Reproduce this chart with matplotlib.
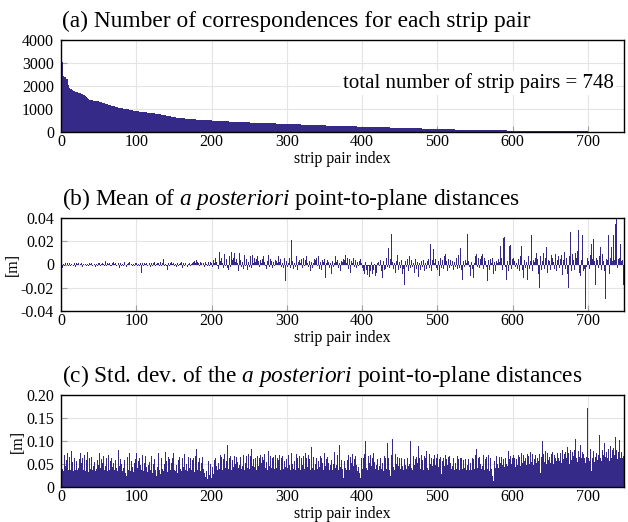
import numpy as np
import matplotlib
matplotlib.use("Agg")
import matplotlib.pyplot as plt
from matplotlib.ticker import FixedLocator, FuncFormatter

plt.rcParams['font.family'] = ['Liberation Serif', 'DejaVu Serif']
plt.rcParams['mathtext.fontset'] = 'custom'
plt.rcParams['mathtext.rm'] = 'Liberation Serif'
plt.rcParams['mathtext.it'] = 'Liberation Serif:italic'
plt.rcParams['axes.unicode_minus'] = False

# (a) number of correspondences per strip pair (sorted, descending)
counts = [
    3700, 3050, 2900, 2420, 2400, 2380, 2350, 2320, 2290, 2050, 1950, 1900, 1880, 1860, 1840, 1820, 1800, 1790, 1770, 1750,
    1730, 1720, 1710, 1700, 1690, 1680, 1660, 1650, 1640, 1620, 1610, 1590, 1570, 1540, 1500, 1460, 1420, 1400, 1390, 1385,
    1380, 1375, 1370, 1365, 1360, 1355, 1350, 1345, 1340, 1335, 1325, 1315, 1300, 1290, 1280, 1270, 1260, 1250, 1240, 1230,
    1220, 1210, 1200, 1190, 1180, 1170, 1160, 1150, 1140, 1130, 1120, 1110, 1100, 1090, 1080, 1070, 1060, 1055, 1050, 1045,
    1040, 1035, 1030, 1020, 1010, 1000, 995, 990, 985, 980, 970, 960, 950, 945, 940, 935, 930, 925, 920, 915,
    910, 905, 900, 895, 890, 885, 880, 875, 870, 865, 860, 855, 850, 848, 845, 842, 840, 836, 832, 828,
    824, 820, 815, 810, 805, 800, 795, 790, 785, 780, 775, 770, 765, 760, 755, 750, 742, 735, 728, 720,
    712, 705, 698, 690, 682, 675, 668, 660, 652, 645, 640, 636, 632, 628, 624, 620, 616, 612, 608, 604,
    600, 597, 594, 591, 588, 585, 582, 579, 576, 573, 570, 567, 564, 561, 558, 555, 552, 549, 546, 543,
    540, 538, 536, 534, 532, 530, 528, 526, 524, 522, 520, 518, 516, 514, 512, 510, 508, 506, 504, 502,
    500, 498, 496, 494, 492, 490, 488, 486, 484, 482, 480, 478, 476, 474, 472, 470, 468, 466, 464, 462,
    460, 458, 457, 455, 454, 452, 451, 449, 448, 446, 445, 443, 442, 440, 439, 437, 436, 434, 433, 431,
    430, 428, 427, 425, 424, 422, 421, 419, 418, 416, 415, 413, 412, 410, 409, 407, 406, 405, 404, 402,
    401, 400, 399, 397, 396, 395, 394, 392, 391, 390, 389, 387, 386, 385, 384, 382, 381, 380, 379, 377,
    376, 375, 374, 372, 371, 370, 369, 367, 366, 365, 364, 362, 361, 360, 359, 357, 356, 355, 354, 352,
    351, 350, 348, 347, 346, 344, 343, 342, 340, 339, 338, 336, 335, 334, 332, 331, 330, 328, 327, 326,
    324, 323, 322, 320, 319, 318, 316, 315, 314, 312, 311, 310, 308, 307, 306, 304, 303, 302, 300, 299,
    298, 296, 295, 294, 292, 291, 290, 289, 287, 286, 285, 284, 282, 281, 280, 279, 277, 276, 275, 274,
    272, 271, 270, 269, 268, 267, 266, 265, 264, 263, 262, 261, 260, 259, 258, 257, 256, 255, 254, 253,
    252, 251, 250, 249, 248, 247, 246, 245, 244, 243, 242, 241, 240, 239, 238, 237, 236, 235, 234, 233,
    232, 231, 230, 229, 228, 227, 226, 225, 224, 223, 222, 221, 220, 219, 218, 217, 216, 215, 214, 213,
    212, 211, 210, 209, 208, 207, 206, 205, 204, 203, 202, 201, 200, 199, 198, 197, 196, 195, 194, 193,
    192, 191, 190, 189, 188, 187, 186, 185, 184, 183, 182, 181, 180, 179, 178, 177, 176, 175, 174, 173,
    172, 171, 170, 169, 168, 167, 166, 165, 164, 163, 162, 161, 160, 159, 158, 157, 156, 155, 154, 153,
    152, 151, 150, 149, 148, 147, 146, 145, 144, 143, 142, 141, 140, 139, 138, 137, 136, 135, 134, 133,
    132, 131, 130, 129, 128, 127, 126, 125, 124, 123, 122, 121, 120, 119, 118, 117, 116, 115, 114, 113,
    112, 111, 110, 109, 108, 107, 106, 105, 104, 103, 102, 101, 100, 99, 98, 97, 96, 95, 94, 93,
    92, 91, 90, 90, 89, 89, 88, 88, 87, 87, 86, 86, 85, 85, 84, 84, 83, 83, 82, 82,
    81, 81, 80, 80, 79, 79, 78, 78, 77, 77, 76, 76, 75, 75, 74, 74, 73, 73, 72, 72,
    71, 71, 70, 70, 69, 69, 68, 68, 67, 67, 66, 66, 65, 65, 64, 64, 63, 63, 62, 62,
    61, 61, 60, 60, 59, 59, 58, 58, 57, 57, 56, 56, 55, 55, 54, 54, 53, 53, 52, 52,
    51, 51, 50, 50, 49, 49, 48, 48, 47, 47, 46, 46, 45, 45, 44, 44, 43, 43, 42, 42,
    41, 41, 41, 40, 40, 40, 39, 39, 39, 38, 38, 38, 37, 37, 37, 36, 36, 36, 35, 35,
    35, 34, 34, 34, 33, 33, 33, 32, 32, 32, 31, 31, 31, 30, 30, 30, 29, 29, 29, 28,
    28, 28, 27, 27, 27, 26, 26, 26, 25, 25, 25, 24, 24, 24, 23, 23, 23, 22, 22, 22,
    21, 21, 21, 20, 20, 20, 19, 19, 19, 18, 18, 18, 17, 17, 17, 16, 16, 16, 15, 15,
    15, 14, 14, 14, 13, 13, 13, 12, 12, 12, 11, 11, 11, 10, 10, 10, 9, 9, 9, 8,
    8, 8, 7, 7, 6, 6, 5, 5,
]

# (b) mean of a posteriori point-to-plane distances, in millimetres
mean_mm = [
    -1, -3, 1, 0.5, -1, 1, 0.5, -0.5, 1, -1, 0.5, 1, -1.5, 0.5, 1, -0.5, -1, 1, 0.5, -2,
    1, 0.5, -1, 1.5, -0.5, 0.5, -1, 1, -2, 0.5, 1, -0.5, 0.5, -1, 1, 0.5, -1.5, 1, -0.5, 0.5,
    1, -1, 2.5, -0.5, 0.5, -2, 1, 0.5, -1, 1, -0.5, 1.5, -1, 0.5, -2.5, 1, 0.5, -1, 2, 3,
    -1, 1, -0.5, 0.5, 1, -1.5, 0.5, -1, 1, 2, -2, 0.5, 1, -1, 0.5, -0.5, 1, -3, 0.5, 1,
    -1, 0.5, 1.5, -1, 2.5, -0.5, 1, -2, 0.5, 1, -1, 2, -0.5, 0.5, -1.5, 1, 0.5, -1, 1.5, -2,
    1, -1, 0.5, 2, -1.5, 1, -7, 0.5, 1, -1, 1.5, -2, 0.5, 1, -1, 2, -0.5, 1, -2.5, 0.5,
    1, -1, 1.5, -0.5, 2, -1, 0.5, -3, 1, 1.5, -1, 0.5, 2, -1.5, 1, -0.5, 5, -1, 0.5, 1,
    -1, -5, 1, 0.5, -1, 1.5, 2, -1, 0.5, 1, -1.5, 1, 0.5, -2, 1, 2, -1, 0.5, 1.5, -1,
    2, -3, 1, 0.5, -1, 1.5, -0.5, 1, -2, 0.5, 1, 2, -1, 0.5, 1, -1.5, 2, 3, 1, -1,
    3.5, 2, 1, 4, -1, 2, 1.5, -0.5, 3, 1, -2, 2, 1, 0.5, -1, 2.5, 1, -1.5, 2, 1,
    3, -2, 4, 1, -3, 6, 2, -1, 5, -4, 11, 3, -2, 6, 1, -3, 4, 9, -1, 5,
    2, -3, -5, 7, 3, -2, 11, 4, -1, 6, 10, 2, -3, 5, 1, -6, 3, 10, 4, -2,
    7, 2, -4, 8, 3, -1, 5, -5, 6, 2, -2, 7, 4, -3, 8, 1, -4, 6, 2, 5,
    -1, 7, 3, -2, -6, 4, 1, 5, -3, 7, 2, -1, 6, -4, 3, 8, 1, -2, 5, 3,
    -3, 6, 2, -1, 4, -5, 3, 1, 7, -7, 2, 5, -2, 4, 1, -3, 6, 2, -14, 3,
    -2, 4, 1, 6, -3, 2, 21, 3, -4, 5, 1, -2, 7, 3, -5, 2, 4, -16, 1, 5,
    -3, 2, 6, -1, 4, -4, 7, 1, -2, 5, 3, -6, 2, 8, -3, 1, 5, -2, 4, 6,
    -1, 3, 7, -4, 2, 1, -5, 4, 2, -3, 5, -12, 1, -10, 4, 2, -3, 6, 1, -8,
    3, 5, -2, 1, 7, -4, 2, 4, -3, 6, 1, -6, 3, 2, -2, 5, 4, 8, -3, 1,
    6, -4, 2, 5, -7, 3, 7, 1, 6, -2, 8, 4, -3, 2, 7, -1, 3, 5, -2, 1,
    -3, -6, 1, -8, 2, -5, 1, -9, -1, -11, 1, -6, 2, -8, 3, -5, 0.5, -10, 1, -7,
    1, 2, -9, -1, 4, -6, 1, -12, 3, -5, 2, -4, 6, -2, 1, 14, -3, 5, -6, 26,
    2, -4, 6, 1, -7, 3, -2, 8, -5, 2, 10, -3, 4, -8, 1, -4, -18, 3, 6, -2,
    5, -6, 2, 7, -3, 4, 14, -2, 1, -7, 5, 3, -4, 2, -11, 6, 1, -5, 3, 8,
    -2, 4, -6, 12, 1, -4, 3, -17, 5, -3, 18, 2, -6, 4, 13, -8, 1, 5, -3, 2,
    -5, 3, -10, 2, 6, -3, 4, 1, -4, 7, 9, -2, 3, -6, 5, 2, -3, 4, -1, 6,
    3, -5, 2, 4, -2, 6, -4, 1, 8, -3, 14, 2, -5, -13, 3, 6, -2, 4, 1, -4,
    26, 3, -2, 5, -10, 2, -4, 6, -12, 1, 7, 3, 9, -2, 6, 8, -3, 5, 7, 2,
    9, -4, 6, 3, 8, -2, -14, 4, 2, -5, 5, 1, -3, 6, -8, 2, 4, -6, 3, 1,
    -4, 5, 2, 16, -3, 6, -5, 23, 4, 24, -2, -13, 7, 3, -6, 16, 2, 17, -4, 5,
    -9, 6, 3, -2, 8, 1, -4, 5, 2, -6, 7, 16, 3, -5, -12, 4, 6, -3, 2, -13,
    5, 7, -4, 3, 9, 25, -6, 4, -15, 2, 6, 10, -3, 5, -8, -20, 4, 7, -5, 3,
    8, 10, -4, 6, 2, 15, -7, 4, 17, 3, -5, 8, -15, 6, 2, -4, 9, 13, -6, 4,
    7, 18, -3, 5, 8, 30, -9, 4, 11, 10, -4, 6, -8, 3, -20, 7, 28, 5, -6, 9,
    4, 22, -5, 10, 6, -3, 12, 30, -7, 5, -10, 4, 25, 8, -6, -4, -38, 9, -2, 6,
    3, 40, -4, 8, 18, -6, 5, 22, 3, -8, -18, 6, 4, 25, -3, 7, 15, 2, -5, 9,
    3, 24, -6, -30, 5, -34, 4, 25, -8, -25, 6, 15, 3, -5, 25, 4, 35, 8, 40, -3,
    5, -8, 6, 18, 3, -5, 4, -18,
]

# (c) std. dev. of a posteriori point-to-plane distances, in millimetres
std_mm = [
    88, 40, 62, 35, 70, 45, 33, 58, 75, 38, 52, 66, 36, 78, 44, 55, 34, 62, 48, 38,
    57, 36, 72, 42, 60, 75, 34, 52, 64, 38, 47, 70, 35, 58, 44, 76, 33, 62, 50, 40,
    66, 36, 80, 45, 55, 34, 68, 40, 58, 47, 36, 75, 42, 60, 33, 52, 68, 38, 55, 45,
    62, 35, 48, 70, 38, 56, 33, 64, 44, 52, 72, 36, 58, 42, 66, 35, 81, 46, 38, 60,
    50, 34, 64, 42, 58, 30, 55, 25, 66, 38, 48, 73, 35, 57, 44, 62, 33, 52, 60, 38,
    75, 42, 56, 34, 64, 48, 36, 58, 70, 35, 52, 40, 68, 44, 33, 62, 47, 55, 38, 57,
    68, 30, 50, 22, 60, 38, 25, 56, 44, 73, 36, 52, 28, 64, 40, 58, 34, 50, 76, 38,
    56, 33, 66, 42, 60, 36, 52, 30, 62, 73, 38, 55, 34, 48, 30, 20, 58, 66, 40, 52,
    35, 62, 44, 56, 71, 38, 50, 60, 34, 65, 42, 54, 62, 36, 58, 46, 64, 33, 68, 48,
    82, 38, 55, 44, 62, 35, 52, 66, 70, 40, 30, 22, 52, 35, 18, 56, 40, 26, 50, 20,
    75, 44, 28, 58, 20, 62, 46, 38, 66, 52, 40, 70, 48, 66, 38, 60, 50, 72, 42, 56,
    45, 91, 40, 62, 52, 68, 38, 58, 64, 44, 68, 50, 36, 66, 54, 42, 70, 48, 66, 40,
    62, 45, 70, 38, 64, 52, 68, 42, 58, 72, 40, 68, 50, 82, 46, 60, 72, 44, 64, 38,
    58, 68, 46, 62, 40, 70, 52, 66, 44, 58, 72, 42, 64, 55, 38, 78, 60, 46, 68, 42,
    62, 50, 66, 40, 70, 54, 42, 64, 58, 46, 70, 38, 62, 52, 68, 40, 56, 66, 44, 60,
    42, 62, 70, 48, 36, 60, 73, 50, 40, 66, 56, 38, 72, 46, 62, 42, 68, 54, 36, 64,
    48, 58, 68, 40, 73, 52, 64, 44, 70, 46, 60, 38, 88, 55, 42, 66, 36, 70, 50, 62,
    40, 89, 56, 44, 68, 38, 62, 52, 36, 70, 74, 46, 60, 40, 66, 52, 36, 64, 48, 58,
    38, 68, 50, 76, 42, 62, 48, 70, 36, 60, 91, 44, 58, 40, 66, 20, 56, 42, 64, 38,
    58, 70, 44, 36, 66, 52, 38, 72, 46, 60, 40, 68, 48, 34, 62, 44, 30, 20, 52, 62,
    40, 64, 46, 72, 99, 42, 60, 36, 68, 52, 38, 70, 46, 62, 36, 75, 54, 40, 66, 48,
    60, 36, 72, 46, 64, 40, 70, 52, 34, 68, 48, 62, 40, 96, 44, 64, 36, 25, 60, 70,
    105, 44, 62, 38, 72, 50, 36, 66, 46, 62, 68, 40, 64, 46, 70, 36, 60, 48, 68, 40,
    62, 46, 72, 50, 101, 42, 64, 38, 68, 48, 60, 36, 66, 52, 90, 44, 62, 40, 70, 48,
    58, 36, 68, 46, 64, 79, 42, 60, 38, 72, 50, 36, 64, 46, 60, 40, 70, 48, 62, 42,
    72, 44, 60, 38, 66, 28, 56, 36, 64, 46, 70, 40, 60, 48, 66, 36, 68, 52, 40, 62,
    46, 64, 36, 86, 52, 40, 68, 46, 60, 36, 64, 46, 62, 40, 58, 70, 42, 60, 36, 66,
    48, 60, 38, 68, 52, 36, 64, 46, 60, 40, 70, 48, 83, 42, 62, 36, 66, 50, 40, 64,
    46, 70, 36, 60, 48, 66, 40, 70, 52, 34, 62, 40, 30, 25, 13, 56, 62, 42, 68, 50,
    64, 42, 65, 52, 38, 66, 48, 60, 70, 44, 64, 50, 68, 46, 78, 60, 40, 68, 50, 64,
    50, 70, 62, 44, 72, 60, 48, 70, 58, 66, 46, 74, 62, 52, 70, 56, 82, 64, 48, 72,
    58, 68, 50, 76, 62, 54, 72, 48, 75, 60, 70, 52, 76, 62, 56, 72, 50, 30, 66, 99,
    60, 72, 54, 78, 64, 50, 74, 58, 80, 66, 52, 72, 60, 76, 50, 70, 62, 86, 56, 74,
    64, 101, 56, 74, 52, 70, 80, 60, 72, 54, 76, 64, 88, 56, 74, 50, 80, 66, 58, 76,
    68, 56, 80, 105, 62, 74, 54, 78, 66, 58, 92, 62, 76, 56, 72, 64, 52, 80, 66, 171,
    62, 76, 56, 82, 35, 72, 62, 78, 54, 84, 66, 74, 58, 88, 70, 112, 62, 76, 56, 80,
    70, 60, 95, 66, 76, 198, 64, 82, 56, 74, 90, 64, 80, 58, 85, 70, 108, 62, 80, 60,
    76, 56, 103, 64, 76, 52, 62, 68,
]

assert len(counts) == 748 and len(mean_mm) == 748 and len(std_mm) == 748

x_ticks = [0, 100, 200, 300, 400, 500, 600, 700]
a_yticks = [0, 1000, 2000, 3000, 4000]
b_yticks = [-0.04, -0.02, 0, 0.02, 0.04]
c_yticks = [0, 0.05, 0.10, 0.15, 0.20]

titles = [
    "(a) Number of correspondences for each strip pair",
    r"(b) Mean of $\mathit{a\ posteriori}$ point-to-plane distances",
    r"(c) Std. dev. of the $\mathit{a\ posteriori}$ point-to-plane distances",
]
annotation = "total number of strip pairs = 748"
xlabel = "strip pair index"
unit_label = "[m]"

BAR = "#352a87"
W, H = 628, 522
fig = plt.figure(figsize=(W / 100, H / 100), dpi=100)

# axes boxes in pixels: (left, top, right, bottom)
boxes = [(61, 40, 624, 132), (61, 218, 624, 311), (61, 395, 624, 487)]
axes = []
for (l, t, r, b) in boxes:
    ax = fig.add_axes([l / W, 1 - b / H, (r - l) / W, (b - t) / H])
    axes.append(ax)

idx = np.arange(len(counts))
mean_m = np.array(mean_mm) / 1000.0
std_m = np.array(std_mm) / 1000.0

axes[0].bar(idx, counts, width=1.0, align='edge', color=BAR, linewidth=0)
axes[1].bar(idx, mean_m, width=1.0, align='edge', color=BAR, linewidth=0)
axes[2].bar(idx, std_m, width=1.0, align='edge', color=BAR, linewidth=0)

def fmt2(v, pos):
    if abs(v) < 1e-12:
        return "0"
    return f"{v:.2f}"

ylims = [(0, 4000), (-0.04, 0.04), (0, 0.20)]
yticks = [a_yticks, b_yticks, c_yticks]
for i, ax in enumerate(axes):
    ax.set_xlim(0, 748)
    ax.set_ylim(*ylims[i])
    ax.xaxis.set_major_locator(FixedLocator(x_ticks))
    ax.yaxis.set_major_locator(FixedLocator(yticks[i]))
    if i > 0:
        ax.yaxis.set_major_formatter(FuncFormatter(fmt2))
    ax.set_axisbelow(True)
    ax.grid(True, color='#e4e4e4', linewidth=0.8)
    ax.tick_params(direction='in', length=4, width=0.8, color='#a0a0a0',
                   labelsize=11.5, labelcolor='black')
    ax.tick_params(axis='x', pad=1.5)
    ax.tick_params(axis='y', pad=5)
    for s in ax.spines.values():
        s.set_linewidth(1.0)
        s.set_color('black')
    ax.set_xlabel(xlabel, fontsize=11.5, labelpad=0.5)
    if i > 0:
        ax.set_ylabel(unit_label, fontsize=11.5, labelpad=0)

axes[0].text(0.982, 0.533, annotation, transform=axes[0].transAxes,
             ha='right', va='center', fontsize=15,
             bbox=dict(facecolor='white', edgecolor='none', pad=1.5))

for (l, t, r, b), title in zip(boxes, titles):
    fig.text(62 / W, 1 - (t - 13) / H, title, ha='left', va='baseline', fontsize=16.8)

fig.savefig("out.png", dpi=100)
